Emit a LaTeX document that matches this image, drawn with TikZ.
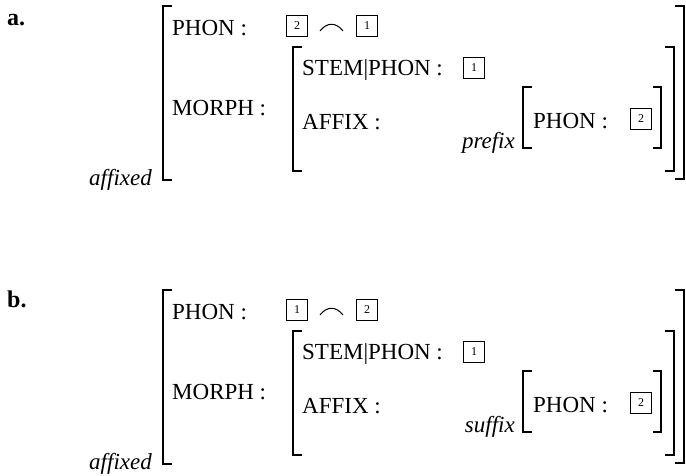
\documentclass[tikz,border=0pt]{standalone}
\usepackage{fontspec}
\setmainfont{Liberation Serif}
\begin{document}
\begin{tikzpicture}[x=1pt,y=-1pt,
  exlab/.style={inner sep=0pt, anchor=base west, font=\fontsize{24}{28}\selectfont\bfseries},
  lbl/.style={inner sep=0pt, anchor=base west, font=\fontsize{23}{27}\selectfont},
  ital/.style={inner sep=0pt, anchor=base east, font=\fontsize{23}{27}\selectfont\itshape},
  tag/.style={draw, line width=1pt, minimum width=21pt, minimum height=21pt, inner sep=0pt, font=\fontsize{12}{14}\selectfont},
  brk/.style={line width=1.9pt},
  tie/.style={line width=1pt},
]
\useasboundingbox (0,0) rectangle (686,475);
% ---------------- panel a ----------------
\node[exlab] (a-lab) at (7,25) {a.};
\node[lbl] (a-phon) at (172,35) {PHON :};
\node[tag] (a-t2) at (297,26) {2};
\node[tag] (a-t1) at (367,26) {1};
\draw[tie] (320,31) .. controls (327,22) and (336,22) .. (343,31);
\node[lbl] (a-morph) at (172,115) {MORPH :};
\node[lbl] (a-stem) at (302,75) {STEM\textbar PHON :};
\node[tag] (a-t1b) at (474,68) {1};
\node[lbl] (a-affix) at (302,129) {AFFIX :};
\node[ital] (a-prefix) at (515,148) {prefix};
\node[lbl] (a-phon2) at (533,128) {PHON :};
\node[tag] (a-t2b) at (641,119) {2};
\node[ital] (a-affixed) at (152,185) {affixed};
\draw[brk] (172,6) -- (163,6) -- (163,180) -- (172,180);
\draw[brk] (675,6) -- (684,6) -- (684,179) -- (675,179);
\draw[brk] (302,47) -- (293,47) -- (293,171) -- (302,171);
\draw[brk] (665,47) -- (674,47) -- (674,171) -- (665,171);
\draw[brk] (532,87) -- (523,87) -- (523,148) -- (532,148);
\draw[brk] (653,87) -- (661,87) -- (661,148) -- (653,148);
% ---------------- panel b ----------------
\node[exlab] (b-lab) at (7,307) {b.};
\node[lbl] (b-phon) at (172,319) {PHON :};
\node[tag] (b-t1) at (297,310) {1};
\node[tag] (b-t2) at (367,310) {2};
\draw[tie] (320,315) .. controls (327,306) and (336,306) .. (343,315);
\node[lbl] (b-morph) at (172,399) {MORPH :};
\node[lbl] (b-stem) at (302,359) {STEM\textbar PHON :};
\node[tag] (b-t1b) at (474,352) {1};
\node[lbl] (b-affix) at (302,413) {AFFIX :};
\node[ital] (b-suffix) at (515,432) {suffix};
\node[lbl] (b-phon2) at (533,412) {PHON :};
\node[tag] (b-t2b) at (641,403) {2};
\node[ital] (b-affixed) at (152,469) {affixed};
\draw[brk] (172,290) -- (163,290) -- (163,464) -- (172,464);
\draw[brk] (675,290) -- (684,290) -- (684,463) -- (675,463);
\draw[brk] (302,331) -- (293,331) -- (293,455) -- (302,455);
\draw[brk] (665,331) -- (674,331) -- (674,455) -- (665,455);
\draw[brk] (532,371) -- (523,371) -- (523,432) -- (532,432);
\draw[brk] (653,371) -- (661,371) -- (661,432) -- (653,432);
\end{tikzpicture}
\end{document}
